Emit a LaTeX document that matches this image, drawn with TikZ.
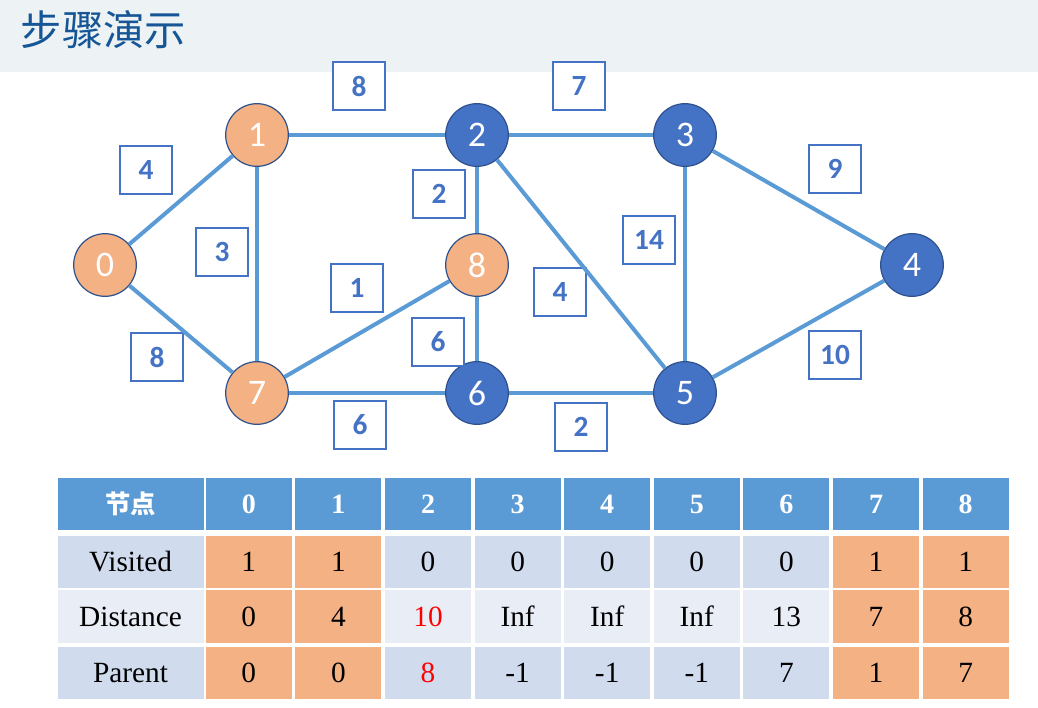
\documentclass[tikz,border=0pt]{standalone}
\usepackage{fontspec}
\usepackage{xcolor}
\setmainfont{Liberation Serif}
\newfontfamily\calibri{Carlito}
\newfontfamily\cjk{Noto Sans CJK SC}
\definecolor{edgeblue}{RGB}{91,155,213}
\definecolor{nodeblue}{RGB}{68,114,196}
\definecolor{rimblue}{RGB}{47,82,143}
\definecolor{visitorange}{RGB}{244,177,131}
\definecolor{titlebg}{RGB}{237,242,244}
\definecolor{titleblue}{RGB}{22,86,150}
\definecolor{rowdark}{RGB}{208,219,238}
\definecolor{rowlight}{RGB}{233,237,246}

\begin{document}
\begin{tikzpicture}[
  x=0.75pt, y=-0.75pt,
  vtx/.style={circle, draw=rimblue, line width=0.9pt, minimum size=47pt, inner sep=0pt, text=white, font=\calibri\fontsize{27}{30}\selectfont},
  donevtx/.style={vtx, fill=visitorange},
  freshvtx/.style={vtx, fill=nodeblue},
  wbox/.style={draw=nodeblue, fill=white, line width=0.8pt, minimum width=39pt, minimum height=36pt, inner sep=0pt, text=nodeblue, font=\calibri\bfseries\fontsize{22}{24}\selectfont},
  edge/.style={edgeblue, line width=3pt},
  cell/.style={minimum width=64.5pt, minimum height=39pt, inner sep=0pt, font=\fontsize{22}{24}\selectfont},
  headcell/.style={cell, fill=edgeblue, text=white, font=\bfseries\fontsize{21}{24}\selectfont}
]
  \useasboundingbox (0,0) rectangle (1038,707);
  % title bar
  \fill[titlebg] (0,0) rectangle (1038,72);
  \node[anchor=west, text=titleblue, font=\cjk\fontsize{31}{34}\selectfont] (title) at (16,30) {步骤演示};

  % vertices
  \node[donevtx] (n0) at (105,265) {0};
  \node[donevtx] (n1) at (257,135) {1};
  \node[freshvtx] (n2) at (477,135) {2};
  \node[freshvtx] (n3) at (685,135) {3};
  \node[freshvtx] (n4) at (912,265) {4};
  \node[freshvtx] (n5) at (685,393) {5};
  \node[freshvtx] (n6) at (477,393) {6};
  \node[donevtx] (n7) at (257,393) {7};
  \node[donevtx] (n8) at (477,265) {8};

  % weights
  \node[wbox] (w01) at (146,170) {4};
  \node[wbox] (w07) at (157,357) {8};
  \node[wbox] (w12) at (359,86) {8};
  \node[wbox] (w17) at (222,252) {3};
  \node[wbox] (w23) at (579,86) {7};
  \node[wbox] (w28) at (439,194) {2};
  \node[wbox] (w25) at (560,292) {4};
  \node[wbox] (w35) at (649,240) {14};
  \node[wbox] (w34) at (835,169) {9};
  \node[wbox] (w54) at (835,355) {10};
  \node[wbox] (w78) at (357,288) {1};
  \node[wbox] (w86) at (438,342) {6};
  \node[wbox] (w76) at (360,425) {6};
  \node[wbox] (w65) at (581,427) {2};

  % edges
  \foreach \a/\b in {n0/n1, n0/n7, n1/n2, n1/n7, n2/n3, n2/n8, n2/n5, n3/n5,
                     n3/n4, n5/n4, n7/n8, n8/n6, n7/n6, n6/n5}
    \draw[edge] (\a) -- (\b);

  % table
  \node[headcell, minimum width=109.5pt, font=\cjk\bfseries\fontsize{19}{22}\selectfont] (hd) at (130.5,504) {节点};
  \node[cell, minimum width=109.5pt, fill=rowdark] (lv) at (130.5,562) {Visited};
  \node[cell, minimum width=109.5pt, fill=rowlight, minimum height=40pt] (ld) at (130.5,616.5) {Distance};
  \node[cell, minimum width=109.5pt, fill=rowdark] (lp) at (130.5,673) {Parent};
  \foreach \c/\v/\d/\p/\fa/\fb in {0/1/0/0/visitorange/visitorange,
      1/1/4/0/visitorange/visitorange,
      2/0/{\textcolor{red}{10}}/{\textcolor{red}{8}}/rowdark/rowlight,
      3/0/Inf/-1/rowdark/rowlight,
      4/0/Inf/-1/rowdark/rowlight,
      5/0/Inf/-1/rowdark/rowlight,
      6/0/13/7/rowdark/rowlight,
      7/1/7/1/visitorange/visitorange,
      8/1/8/7/visitorange/visitorange} {
    \pgfmathsetmacro\cx{248.8+89.6*\c}
    \node[headcell] (h\c) at (\cx,504) {\c};
    \node[cell, fill=\fa] (v\c) at (\cx,562) {\v};
    \node[cell, fill=\fb, minimum height=40pt] (d\c) at (\cx,616.5) {\d};
    \node[cell, fill=\fa] (p\c) at (\cx,673) {\p};
  }
\end{tikzpicture}
\end{document}
